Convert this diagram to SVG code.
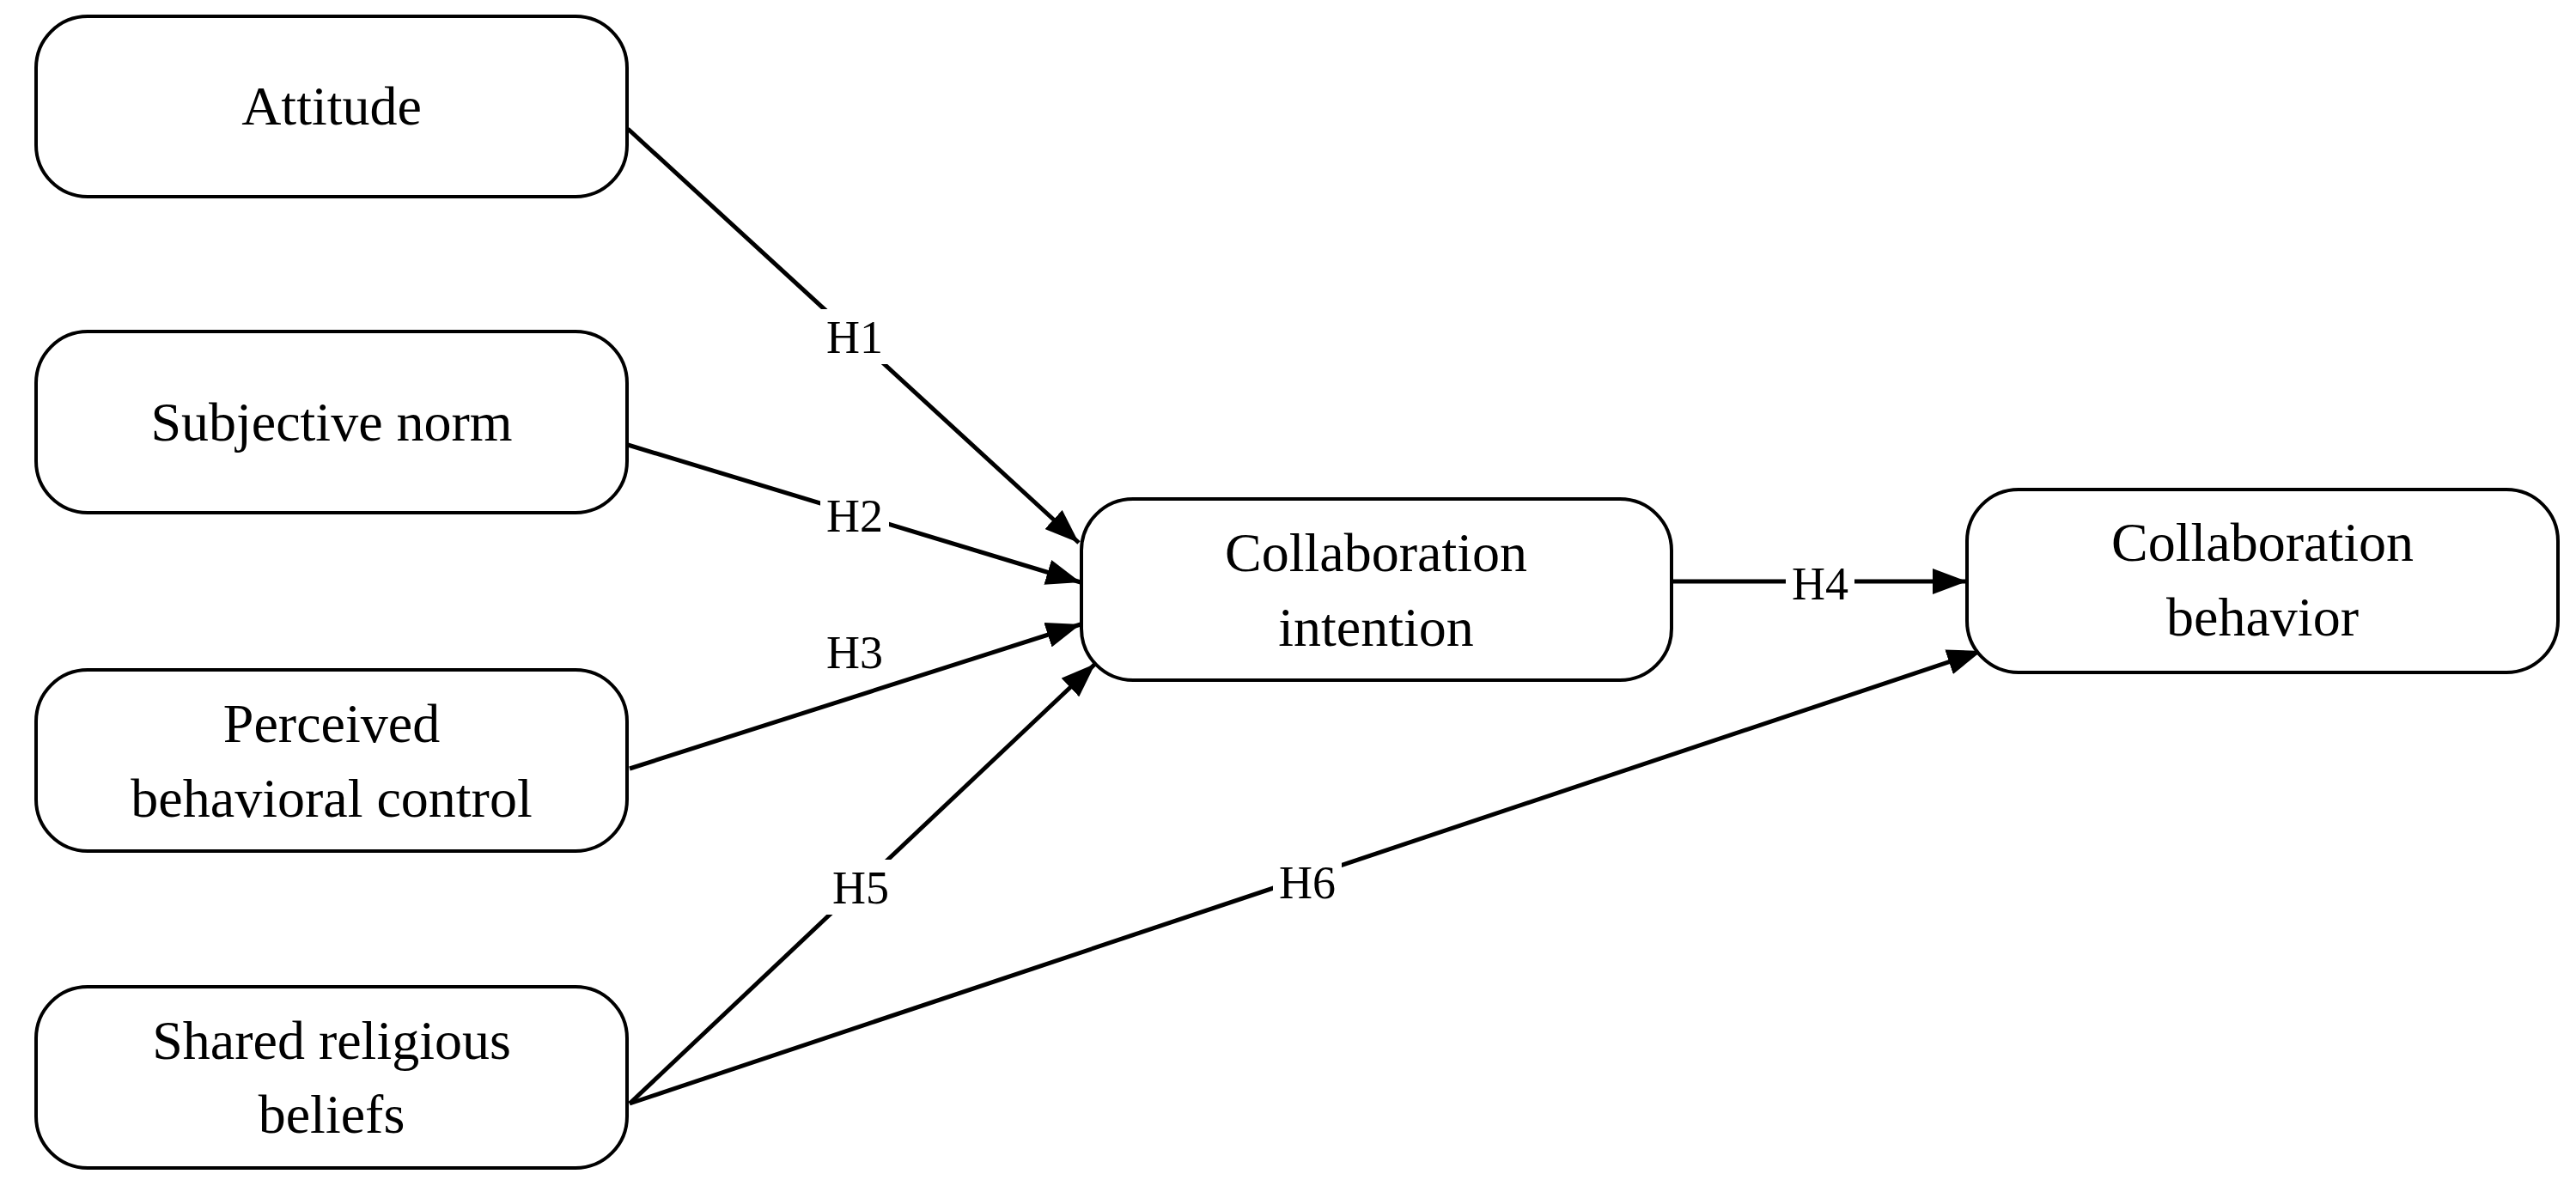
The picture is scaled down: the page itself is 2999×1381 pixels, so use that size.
<svg xmlns="http://www.w3.org/2000/svg" width="2999" height="1381" viewBox="0 0 2999 1381">
<style>
.n{fill:#fff;stroke:#000;stroke-width:4}
.t{font-family:"Liberation Serif",serif;font-size:64px;text-anchor:middle;fill:#000}
.l{font-family:"Liberation Serif",serif;font-size:54px;text-anchor:middle;fill:#000}
.e{stroke:#000;stroke-width:5;fill:none;marker-end:url(#a)}
.bg{fill:#fff}
</style>
<defs><marker id="a" markerWidth="8" markerHeight="6" refX="8" refY="3" orient="auto" markerUnits="strokeWidth"><path d="M0,0L8,3L0,6z" fill="#000"/></marker></defs>
<rect width="2999" height="1381" fill="#fff"/>
<g id="connectors">
<path class="e" d="M731,150L1256,632"/>
<path class="e" d="M731,518L1258,678"/>
<path class="e" d="M733,895L1258,727"/>
<path class="e" d="M733,1285L1275,773"/>
<path class="e" d="M733,1285L2307,758"/>
<path class="e" d="M1946,677L2290,677"/>
<rect class="bg" x="955" y="360" width="80" height="64"/><text class="l" x="995" y="411">H1</text>
<rect class="bg" x="955" y="568" width="80" height="64"/><text class="l" x="995" y="619">H2</text>
<rect class="bg" x="955" y="727" width="80" height="64"/><text class="l" x="995" y="778">H3</text>
<rect class="bg" x="962" y="1001" width="80" height="64"/><text class="l" x="1002" y="1052">H5</text>
<rect class="bg" x="1482" y="995" width="80" height="64"/><text class="l" x="1522" y="1046">H6</text>
<rect class="bg" x="2079" y="647" width="80" height="64"/><text class="l" x="2119" y="698">H4</text>
</g>
<g id="attitude"><rect class="n" x="42" y="19" width="688" height="210" rx="60"/><text class="t" x="386" y="145">Attitude</text></g>
<g id="subjective"><rect class="n" x="42" y="386" width="688" height="211" rx="60"/><text class="t" x="386" y="513">Subjective norm</text></g>
<g id="pbc"><rect class="n" x="42" y="780" width="688" height="211" rx="60"/><text class="t" x="386" y="864">Perceived</text><text class="t" x="386" y="951">behavioral control</text></g>
<g id="shared"><rect class="n" x="42" y="1149" width="688" height="211" rx="60"/><text class="t" x="386" y="1233">Shared religious</text><text class="t" x="386" y="1319">beliefs</text></g>
<g id="intention"><rect class="n" x="1259" y="581" width="687" height="211" rx="60"/><text class="t" x="1602" y="665">Collaboration</text><text class="t" x="1602" y="752">intention</text></g>
<g id="behavior"><rect class="n" x="2290" y="570" width="688" height="213" rx="60"/><text class="t" x="2634" y="653">Collaboration</text><text class="t" x="2634" y="740">behavior</text></g>
</svg>
